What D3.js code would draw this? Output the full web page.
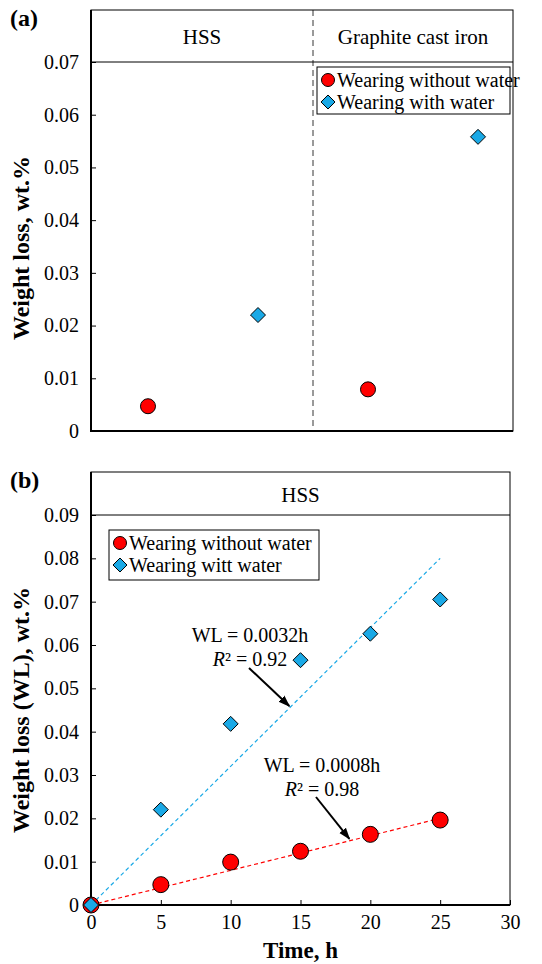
<!DOCTYPE html>
<html>
<head>
<meta charset="utf-8">
<script src="https://cdn.jsdelivr.net/npm/d3@7.9.0/dist/d3.min.js"></script>
<style>
  body { margin: 0; background: #fff; }
  svg { display: block; }
  svg text { font-family: "Liberation Serif", "Times New Roman", Times, serif; }
</style>
</head>
<body>
<svg id="chart" width="542" height="964"></svg>
<script>
// panel (a) data
const aGroups = ['HSS', 'Graphite cast iron'];
const aWithout = [0.0047, 0.0079];   // HSS, GCI
const aWith = [0.0220, 0.0558];
const aTicks = [0, 0.01, 0.02, 0.03, 0.04, 0.05, 0.06, 0.07];

// panel (b) data
const hours = [0, 5, 10, 15, 20, 25];
const bWithout = [0, 0.0047, 0.0099, 0.0124, 0.0163, 0.0196];
const bWith = [0, 0.0220, 0.0418, 0.0565, 0.0626, 0.0705];
const bTicks = [0, 0.01, 0.02, 0.03, 0.04, 0.05, 0.06, 0.07, 0.08, 0.09];
const xTicks = [0, 5, 10, 15, 20, 25, 30];
const slopes = [0.0008, 0.0032];
const fitLabels = [
  { eq: 'WL = 0.0032h', r2: '0.92' },
  { eq: 'WL = 0.0008h', r2: '0.98' }
];

const RED = '#ff0000';
const BLUE = '#1aa9e6';

const svg = d3.select('#chart');

function circle(g, x, y, r) {
  g.append('circle').attr('cx', x).attr('cy', y).attr('r', r)
    .attr('fill', RED).attr('stroke', '#000').attr('stroke-width', 1);
}
function diamond(g, x, y, r) {
  g.append('path')
    .attr('d', `M${x},${y - r}L${x + r},${y}L${x},${y + r}L${x - r},${y}Z`)
    .attr('fill', BLUE).attr('stroke', '#000').attr('stroke-width', 1);
}

function frame(g, x0, x1, yTop, yHead, yBot) {
  g.append('rect').attr('x', x0).attr('y', yTop).attr('width', x1 - x0).attr('height', yBot - yTop)
    .attr('fill', 'none').attr('stroke', '#000').attr('stroke-width', 1);
  g.append('line').attr('x1', x0).attr('x2', x1).attr('y1', yHead).attr('y2', yHead)
    .attr('stroke', '#000').attr('stroke-width', 1);
  // heavier left and bottom axis lines
  g.append('line').attr('x1', x0).attr('x2', x0).attr('y1', yTop).attr('y2', yBot + 1)
    .attr('stroke', '#000').attr('stroke-width', 2);
  g.append('line').attr('x1', x0).attr('x2', x1).attr('y1', yBot).attr('y2', yBot)
    .attr('stroke', '#000').attr('stroke-width', 2);
}

function yAxis(g, y, ticks, x0) {
  const ax = d3.axisLeft(y).tickValues(ticks).tickSizeInner(-5).tickSizeOuter(0).tickPadding(12)
    .tickFormat(d => d === 0 ? '0' : d3.format('.2f')(d));
  const a = g.append('g').attr('transform', `translate(${x0},0)`).call(ax)
    .attr('font-family', null).attr('font-size', 20);
  a.select('.domain').remove();
  a.selectAll('text').attr('fill', '#000');
  a.selectAll('line').attr('stroke', '#000');
}

function legend(g, x, y, w, h, labels) {
  g.append('rect').attr('x', x).attr('y', y).attr('width', w).attr('height', h)
    .attr('fill', '#fff').attr('stroke', '#000').attr('stroke-width', 1);
  labels.forEach((lab, i) => {
    const cy = y + 13 + i * 22;
    if (i === 0) circle(g, x + 11, cy, 6.5); else diamond(g, x + 11, cy, 7);
    g.append('text').attr('x', x + 20).attr('y', cy).attr('dy', '0.33em')
      .attr('font-size', 20).text(lab);
  });
}

// ---------- panel (a)
{
  const L = 91, R = 513, T = 10, B = 431;
  const g = svg.append('g');
  const x = d3.scaleLinear().domain([0.482, 4.318]).range([L, R]);
  const y = d3.scaleLinear().domain([0, 0.07]).range([B, 62]);

  frame(g, L, R, T, y(0.07), B);
  yAxis(g, y, aTicks, L);

  // category divider
  g.append('line').attr('x1', x(2.5)).attr('x2', x(2.5)).attr('y1', T).attr('y2', B)
    .attr('stroke', '#000').attr('stroke-width', 0.8).attr('stroke-dasharray', '6,4');

  g.append('text').attr('x', (L + x(2.5)) / 2).attr('y', 44).attr('text-anchor', 'middle')
    .attr('font-size', 21).text(aGroups[0]);
  g.append('text').attr('x', (x(2.5) + R) / 2).attr('y', 44).attr('text-anchor', 'middle')
    .attr('font-size', 21).text(aGroups[1]);

  legend(g, 317, 67, 193, 47, ['Wearing without water', 'Wearing with water']);

  // HSS at 1 & 2, GCI at 3 & 4
  aGroups.forEach((_, i) => {
    circle(g, x(1 + 2 * i), y(aWithout[i]), 7.5);
    diamond(g, x(2 + 2 * i), y(aWith[i]), 7.5);
  });

  g.append('text').attr('x', 29).attr('y', 248).attr('transform', 'rotate(-90,29,248)')
    .attr('text-anchor', 'middle').attr('font-weight', 'bold').attr('font-size', 24)
    .text('Weight loss, wt.%');
  g.append('text').attr('x', 10).attr('y', 26).attr('font-weight', 'bold').attr('font-size', 24).text('(a)');
}

// ---------- panel (b)
{
  const L = 91, R = 510, T = 472, B = 905;
  const g = svg.append('g');
  const x = d3.scaleLinear().domain([0, 30]).range([L, R]);
  const y = d3.scaleLinear().domain([0, 0.09]).range([B, 515]);

  frame(g, L, R, T, y(0.09), B);
  yAxis(g, y, bTicks, L);

  // x ticks point inward, labels below
  const xa = g.append('g').attr('transform', `translate(0,${B})`)
    .call(d3.axisBottom(x).tickValues(xTicks).tickSizeInner(-5).tickSizeOuter(0).tickPadding(14))
    .attr('font-family', null).attr('font-size', 20);
  xa.select('.domain').remove();
  xa.selectAll('text').attr('fill', '#000').attr('dy', '0.71em').attr('y', 10);
  xa.selectAll('line').attr('stroke', '#000');

  g.append('text').attr('x', (L + R) / 2).attr('y', 502).attr('text-anchor', 'middle')
    .attr('font-size', 21).text('HSS');

  // fitted lines
  [[slopes[1], BLUE], [slopes[0], RED]].forEach(([k, c]) => {
    g.append('line').attr('x1', x(0)).attr('y1', y(0)).attr('x2', x(25)).attr('y2', y(k * 25))
      .attr('stroke', c).attr('stroke-width', 1.2).attr('stroke-dasharray', '4,3');
  });

  hours.forEach((h, i) => circle(g, x(h), y(bWithout[i]), 8));
  hours.forEach((h, i) => diamond(g, x(h), y(bWith[i]), 7.5));

  legend(g, 109, 530, 210, 50, ['Wearing without water', 'Wearing witt water']);

  // annotations
  const defs = svg.append('defs');
  defs.append('marker').attr('id', 'arr').attr('viewBox', '0 0 10 10').attr('refX', 9).attr('refY', 5)
    .attr('markerWidth', 6).attr('markerHeight', 6).attr('orient', 'auto')
    .append('path').attr('d', 'M0,1.5L10,5L0,8.5Z').attr('fill', '#000');

  const ann = [
    { tx: 250, ty: 635, from: [249, 668], t: 14.2, k: slopes[1] },
    { tx: 322, ty: 765, from: [316, 797], t: 18.5, k: slopes[0] }
  ];
  ann.forEach((a, i) => {
    g.append('text').attr('x', a.tx).attr('y', a.ty).attr('dy', '0.33em').attr('text-anchor', 'middle')
      .attr('font-size', 20).text(fitLabels[i].eq);
    const t = g.append('text').attr('x', a.tx).attr('y', a.ty + 24).attr('dy', '0.33em')
      .attr('text-anchor', 'middle').attr('font-size', 20);
    t.append('tspan').attr('font-style', 'italic').text('R');
    t.append('tspan').text('² = ' + fitLabels[i].r2);
    g.append('line').attr('x1', a.from[0]).attr('y1', a.from[1])
      .attr('x2', x(a.t)).attr('y2', y(a.k * a.t) - 2)
      .attr('stroke', '#000').attr('stroke-width', 2).attr('marker-end', 'url(#arr)');
  });

  g.append('text').attr('x', 29).attr('y', 710).attr('transform', 'rotate(-90,29,710)')
    .attr('text-anchor', 'middle').attr('font-weight', 'bold').attr('font-size', 24)
    .text('Weight loss (WL), wt.%');
  g.append('text').attr('x', (L + R) / 2).attr('y', 958).attr('text-anchor', 'middle')
    .attr('font-weight', 'bold').attr('font-size', 23).text('Time, h');
  g.append('text').attr('x', 10).attr('y', 488).attr('font-weight', 'bold').attr('font-size', 24).text('(b)');
}
</script>
</body>
</html>
